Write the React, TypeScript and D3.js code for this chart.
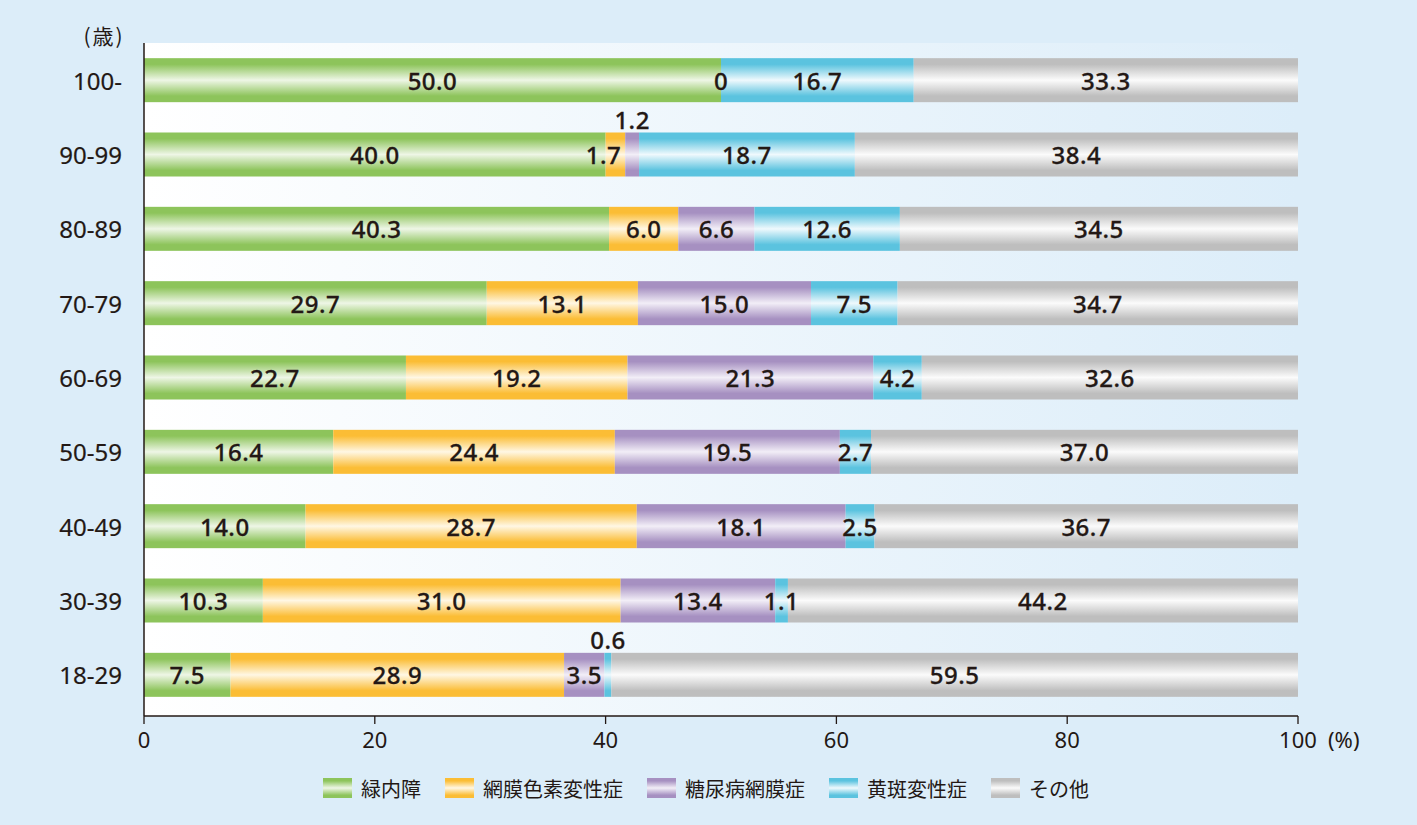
import React from "react";
import * as d3 from "d3";

const categories = ["100-", "90-99", "80-89", "70-79", "60-69", "50-59", "40-49", "30-39", "18-29"];
const seriesNames = ["緑内障", "網膜色素変性症", "糖尿病網膜症", "黄斑変性症", "その他"];
const glaucoma = [50.0, 40.0, 40.3, 29.7, 22.7, 16.4, 14.0, 10.3, 7.5];
const retinitis = [0, 1.7, 6.0, 13.1, 19.2, 24.4, 28.7, 31.0, 28.9];
const diabetic = [0, 1.2, 6.6, 15.0, 21.3, 19.5, 18.1, 13.4, 3.5];
const macular = [16.7, 18.7, 12.6, 7.5, 4.2, 2.7, 2.5, 1.1, 0.6];
const others = [33.3, 38.4, 34.5, 34.7, 32.6, 37.0, 36.7, 44.2, 59.5];
const xTicks = [0, 20, 40, 60, 80, 100];

const seriesValues = [glaucoma, retinitis, diabetic, macular, others];
const seriesColors = [
  { c: "#8dc45b", m: "#eef6e6" },
  { c: "#fbbd35", m: "#fff7e4" },
  { c: "#a690c1", m: "#f2eef7" },
  { c: "#5bc3df", m: "#eff9fd" },
  { c: "#bebebe", m: "#fbfbfb" },
];

// label placement exceptions
const labelsAbove = ["90-99|糖尿病網膜症", "18-29|黄斑変性症"];
const labelShift: Record<string, number> = { "90-99|網膜色素変性症": -12 };

const W = 1417;
const H = 825;
const TEXT = "#231815";
const FONT = "'Noto Sans CJK JP', 'Noto Sans', sans-serif";
const NUMFONT = "'Noto Sans', 'Noto Sans CJK JP', sans-serif";

export default function App() {
  const x = d3.scaleLinear().domain([0, 100]).range([144, 1298]);
  const y = d3
    .scaleBand<string>()
    .domain(categories)
    .range([43, 712])
    .paddingInner(0.408)
    .paddingOuter(0.204);
  const bw = y.bandwidth();
  const plotTop = 43;
  const axisY = 716;

  const rows = categories.map((cat, i) => {
    let acc = 0;
    let zeroShown = false;
    return seriesNames.map((name, s) => {
      const v = seriesValues[s][i];
      const x0 = acc;
      acc += v;
      let showLabel = v > 0;
      if (v === 0 && !zeroShown) {
        showLabel = true;
        zeroShown = true;
      }
      return { cat, name, s, v, x0, x1: acc, showLabel };
    });
  });

  // legend layout
  const swW = 29;
  const swH = 20;
  const legendFont = 20;
  let lx = 323;
  const legendItems = seriesNames.map((name, s) => {
    const item = { name, s, x: lx };
    lx += swW + 9 + name.length * legendFont + 24;
    return item;
  });
  const legendY = 788;

  return (
    <svg
      width={W}
      height={H}
      style={{ position: "absolute", left: 0, top: 0, display: "block" }}
      fontFamily={FONT}
    >
      <defs>
        <linearGradient id="plotbg" x1="0" y1="0" x2="1" y2="0">
          <stop offset="0" stopColor="#ffffff" />
          <stop offset="1" stopColor="#dcedf9" />
        </linearGradient>
        {seriesColors.map((col, s) => (
          <linearGradient key={s} id={`g${s}`} x1="0" y1="0" x2="0" y2="1">
            <stop offset="0" stopColor={col.c} />
            <stop offset="0.14" stopColor={col.c} />
            <stop offset="0.5" stopColor={col.m} />
            <stop offset="0.86" stopColor={col.c} />
            <stop offset="1" stopColor={col.c} />
          </linearGradient>
        ))}
      </defs>
      <rect x={0} y={0} width={W} height={H} fill="#dcedf9" />
      <rect
        x={x(0)}
        y={plotTop}
        width={x(100) - x(0)}
        height={axisY - plotTop}
        fill="url(#plotbg)"
      />

      {/* bars */}
      {rows.map((row) =>
        row.map((d) =>
          d.v > 0 ? (
            <rect
              key={`${d.cat}-${d.s}`}
              x={x(d.x0)}
              y={y(d.cat)!}
              width={x(d.x1) - x(d.x0)}
              height={bw}
              fill={`url(#g${d.s})`}
            />
          ) : null
        )
      )}

      {/* bar labels */}
      {rows.map((row) =>
        row.map((d) => {
          if (!d.showLabel) return null;
          const key = `${d.cat}|${d.name}`;
          const above = labelsAbove.includes(key);
          const cx = (x(d.x0) + x(d.x1)) / 2 + (labelShift[key] || 0);
          const cy = above ? y(d.cat)! - 13 : y(d.cat)! + bw / 2;
          return (
            <text
              key={`l-${key}`}
              x={cx}
              y={cy}
              textAnchor="middle"
              dominantBaseline="central"
              fontFamily={NUMFONT}
              fontSize={24}
              fontWeight={500}
              letterSpacing={0.5}
              stroke={TEXT}
              strokeWidth={0.3}
              fill={TEXT}
            >
              {d.v === 0 ? "0" : d.v.toFixed(1)}
            </text>
          );
        })
      )}

      {/* axes */}
      <line x1={x(0)} x2={x(0)} y1={plotTop} y2={axisY} stroke={TEXT} strokeWidth={1.5} />
      <line x1={x(0)} x2={x(100)} y1={axisY} y2={axisY} stroke={TEXT} strokeWidth={1.3} />
      {xTicks.map((t) => (
        <g key={t}>
          <line x1={x(t)} x2={x(t)} y1={axisY} y2={axisY + 8} stroke={TEXT} strokeWidth={1.3} />
          <text
            x={x(t)}
            y={739}
            textAnchor="middle"
            dominantBaseline="central"
            fontFamily={NUMFONT}
            fontSize={22}
            fill={TEXT}
          >
            {t}
          </text>
        </g>
      ))}
      <text x={1328} y={739} dominantBaseline="central" fontFamily={NUMFONT} fontSize={22} fill={TEXT}>
        (%)
      </text>

      {categories.map((c) => (
        <text
          key={c}
          x={122}
          y={y(c)! + bw / 2}
          textAnchor="end"
          dominantBaseline="central"
          fontFamily={NUMFONT}
          fontSize={24}
          stroke={TEXT}
          strokeWidth={0.2}
          fill={TEXT}
        >
          {c}
        </text>
      ))}
      <text
        x={104}
        y={35}
        textAnchor="middle"
        dominantBaseline="central"
        fontSize={21}
        letterSpacing={2}
        fill={TEXT}
      >
        (歳)
      </text>

      {/* legend */}
      {legendItems.map((it) => (
        <g key={it.name}>
          <rect
            x={it.x}
            y={legendY - swH / 2}
            width={swW}
            height={swH}
            fill={`url(#g${it.s})`}
          />
          <text
            x={it.x + swW + 9}
            y={legendY}
            dominantBaseline="central"
            fontSize={legendFont}
            fill={TEXT}
          >
            {it.name}
          </text>
        </g>
      ))}
    </svg>
  );
}
